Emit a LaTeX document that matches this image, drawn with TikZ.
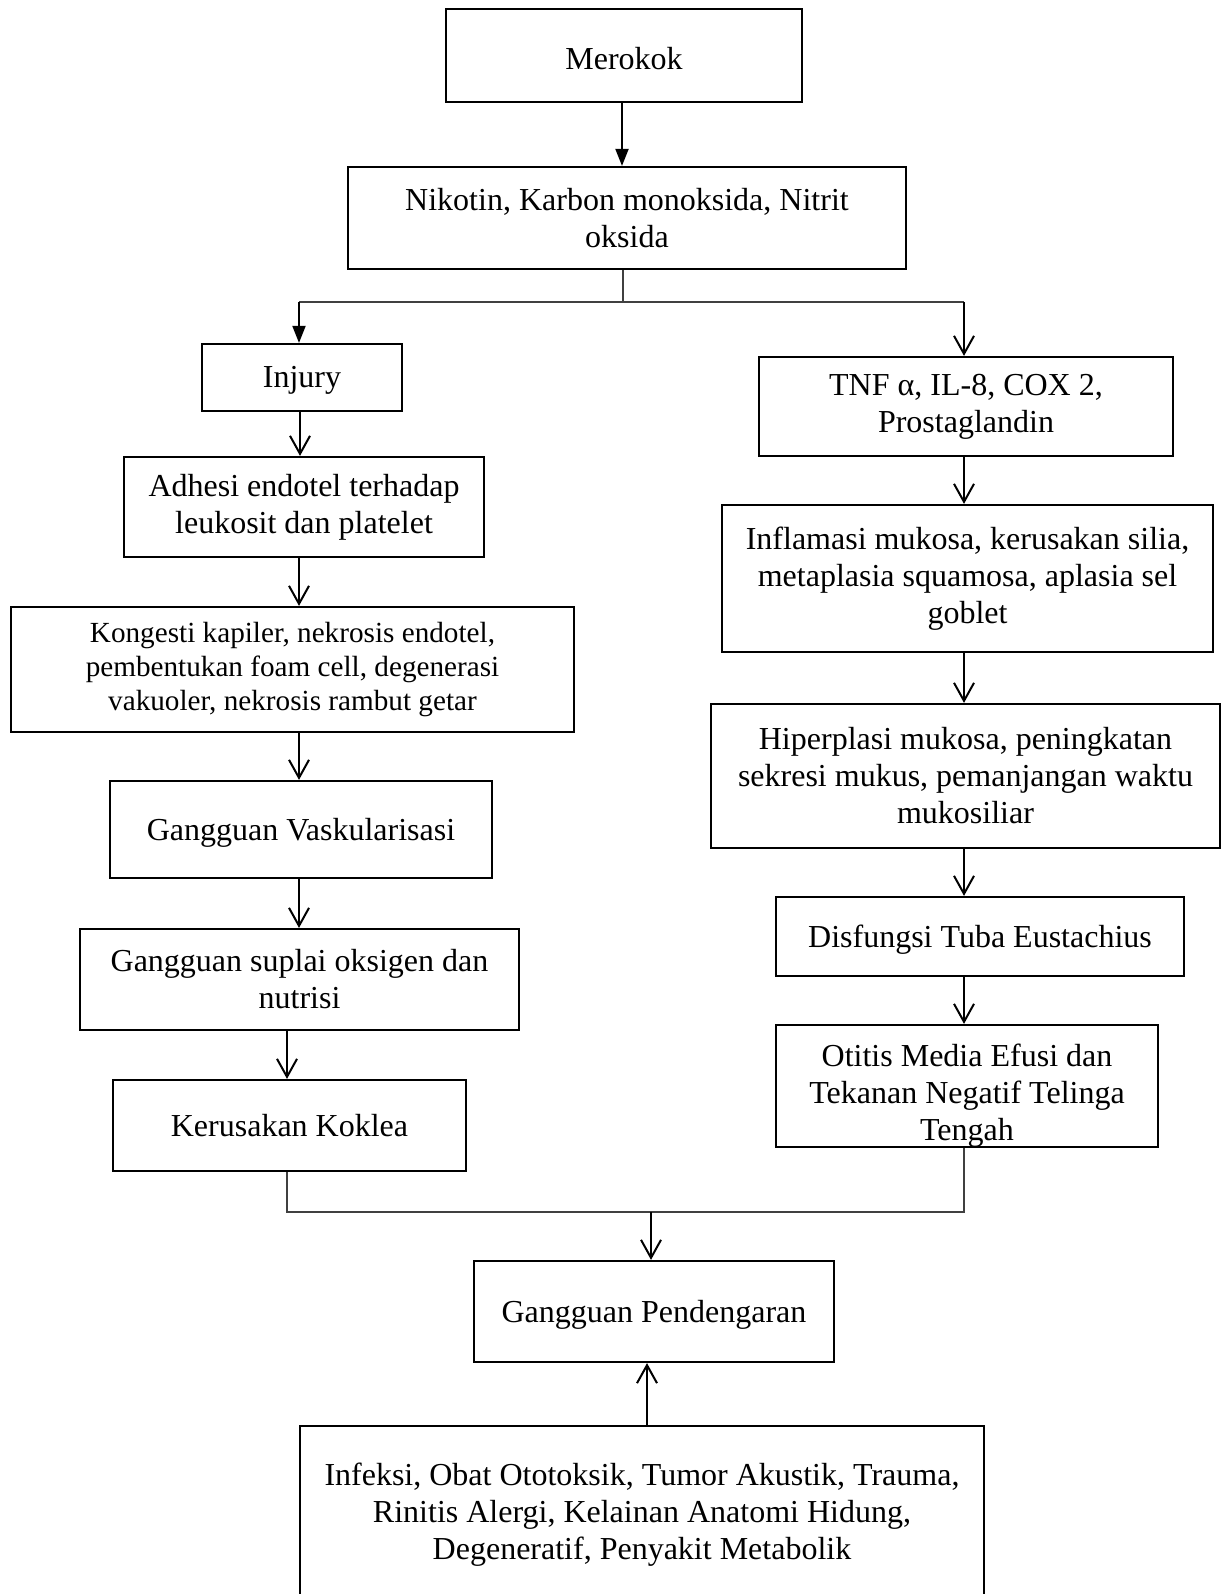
\documentclass[tikz,border=0pt]{standalone}
\usepackage{fontspec}
\setmainfont{Liberation Serif}
\usetikzlibrary{arrows.meta}
\newcommand{\dn}[1]{\raisebox{-1.5pt}[\height][\depth]{#1}}
\tikzset{
  fbox/.style={draw, line width=1.1pt, inner sep=0pt, align=center,
    font=\fontsize{16pt}{18.5pt}\selectfont},
  smalltext/.style={font=\fontsize{14.6pt}{17pt}\selectfont},
  arrF/.style={line width=1pt, -{Triangle[length=8.5pt,width=6.5pt]}},
  arrV/.style={line width=1pt, -{Straight Barb[length=9pt,width=10pt,line width=1pt]}},
  thin/.style={line width=0.6pt, draw=black!75}
}
\begin{document}
\begin{tikzpicture}[x=0.5pt,y=-0.5pt]
\clip (0,0) rectangle (1227,1594);
\useasboundingbox (0,0) rectangle (1227,1594);
% nodes
\node[fbox, minimum width=178pt, minimum height=46.5pt] (merokok) at (624,55.5) {\dn{Merokok}};
\node[fbox, minimum width=279pt, minimum height=51pt] (nikotin) at (627,218) {Nikotin, Karbon monoksida, Nitrit\\oksida};
\node[fbox, minimum width=100pt, minimum height=33.5pt] (injury) at (302,377.5) {\dn{Injury}};
\node[fbox, minimum width=180pt, minimum height=50pt] (adhesi) at (304,507) {Adhesi endotel terhadap\\leukosit dan platelet};
\node[fbox, smalltext, minimum width=281.5pt, minimum height=62.5pt] (kongesti) at (292.5,669.5) {Kongesti kapiler, nekrosis endotel,\\pembentukan foam cell, degenerasi\\vakuoler, nekrosis rambut getar};
\node[fbox, minimum width=191pt, minimum height=48.5pt] (vask) at (301,829.5) {\dn{Gangguan Vaskularisasi}};
\node[fbox, minimum width=219.5pt, minimum height=50.5pt] (suplai) at (299.5,979.5) {Gangguan suplai oksigen dan\\nutrisi};
\node[fbox, minimum width=176.5pt, minimum height=45.5pt] (koklea) at (289.5,1125.5) {Kerusakan Koklea};
\node[fbox, minimum width=207pt, minimum height=49.5pt] (tnf) at (966,406.5) {TNF α, IL-8, COX 2,\\Prostaglandin};
\node[fbox, minimum width=245.5pt, minimum height=73.5pt] (inflamasi) at (967.5,578.5) {Inflamasi mukosa, kerusakan silia,\\metaplasia squamosa, aplasia sel\\goblet};
\node[fbox, minimum width=254.5pt, minimum height=72pt] (hiperplasi) at (965.5,776) {Hiperplasi mukosa, peningkatan\\sekresi mukus, pemanjangan waktu\\mukosiliar};
\node[fbox, minimum width=204pt, minimum height=39.5pt] (disfungsi) at (980,936.5) {\dn{Disfungsi Tuba Eustachius}};
\begin{scope}
\clip (776,1025) rectangle (1158,1146);
\node[fbox, draw=none] (otitistext) at (967,1096) {Otitis Media Efusi dan\\Tekanan Negatif Telinga\\Tengah};
\end{scope}
\node[fbox, minimum width=191pt, minimum height=61pt] (otitis) at (967,1086) {};
\node[fbox, minimum width=180pt, minimum height=50.5pt] (pendengaran) at (654,1311.5) {\dn{Gangguan Pendengaran}};
\node[fbox, minimum width=342pt, minimum height=89pt] (faktor) at (642,1515) {Infeksi, Obat Ototoksik, Tumor Akustik, Trauma,\\Rinitis Alergi, Kelainan Anatomi Hidung,\\Degeneratif, Penyakit Metabolik};
% coordinates
\coordinate (split) at (623,302);
\coordinate (bl) at (299,302);
\coordinate (br) at (964,302);
\coordinate (merge) at (651,1212);
% connectors
\draw[arrF] (merokok.south -| 622,0) -- (nikotin.north -| 622,0);
\draw[thin] (nikotin.south -| split) -- (split);
\draw[thin] (bl) -- (br);
\draw[arrF] (bl) -- (bl |- injury.north);
\draw[arrV] (br) -- (br |- tnf.north);
\draw[arrV] (injury.south -| 300,0) -- (adhesi.north -| 300,0);
\draw[arrV] (adhesi.south -| 299,0) -- (kongesti.north -| 299,0);
\draw[arrV] (kongesti.south -| 299,0) -- (vask.north -| 299,0);
\draw[arrV] (vask.south -| 299,0) -- (suplai.north -| 299,0);
\draw[arrV] (suplai.south -| 287,0) -- (koklea.north -| 287,0);
\draw[arrV] (tnf.south -| 964,0) -- (inflamasi.north -| 964,0);
\draw[arrV] (inflamasi.south -| 964,0) -- (hiperplasi.north -| 964,0);
\draw[arrV] (hiperplasi.south -| 964,0) -- (disfungsi.north -| 964,0);
\draw[arrV] (disfungsi.south -| 964,0) -- (otitis.north -| 964,0);
\draw[thin] (koklea.south -| 287,0) |- (merge) -| (otitis.south -| 964,0);
\draw[arrV] (merge) -- (pendengaran.north -| merge);
\draw[arrV] (faktor.north -| 647,0) -- (pendengaran.south -| 647,0);
\end{tikzpicture}
\end{document}
